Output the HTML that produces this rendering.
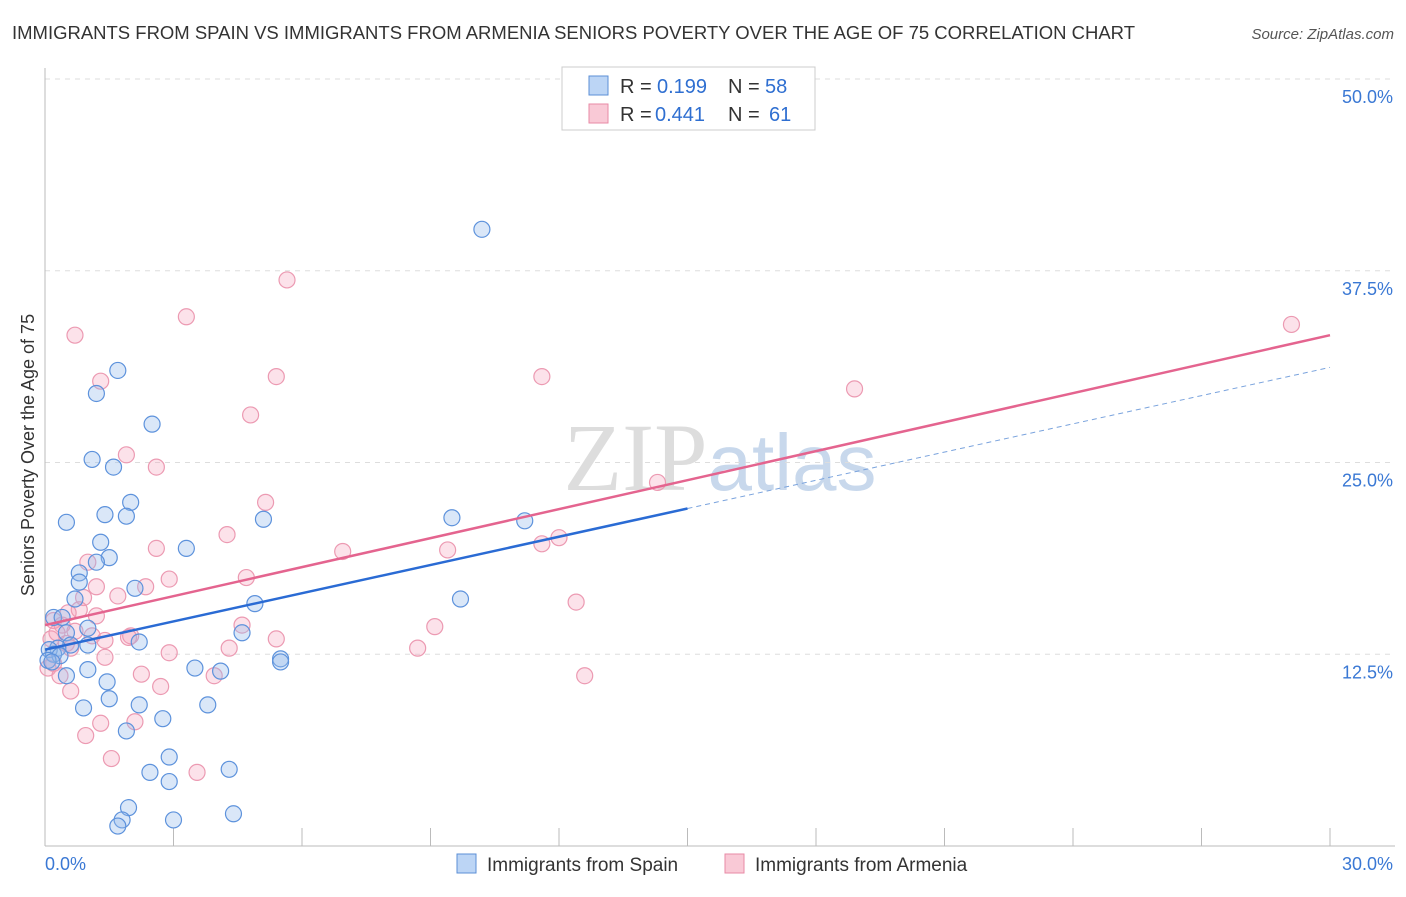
<!DOCTYPE html>
<html><head><meta charset="utf-8"><style>
body{margin:0;background:#fff;font-family:"Liberation Sans",sans-serif;}
</style></head><body>
<svg id="chart" width="1406" height="892" viewBox="0 0 1406 892" xmlns="http://www.w3.org/2000/svg">
<text x="12" y="39" font-size="18" fill="#333" textLength="1123" lengthAdjust="spacingAndGlyphs">IMMIGRANTS FROM SPAIN VS IMMIGRANTS FROM ARMENIA SENIORS POVERTY OVER THE AGE OF 75 CORRELATION CHART</text>
<text x="1394" y="39" font-size="15" fill="#555" font-style="italic" text-anchor="end">Source: ZipAtlas.com</text>
<text x="720" y="490" font-size="96" fill="#ddd" text-anchor="middle" font-family="Liberation Serif,serif">ZIP<tspan fill="#c8d8ec" font-family="Liberation Sans,sans-serif" font-size="80">atlas</tspan></text>
<g id="grid"></g>
<g id="axes"></g>
<g id="pts"></g>
<g id="lines"></g>
<text transform="translate(34,455) rotate(-90)" font-size="18" fill="#333" text-anchor="middle">Seniors Poverty Over the Age of 75</text>
<g>
<rect x="562" y="67" width="253" height="63" fill="#fff" stroke="#ccc"/>
<rect x="589" y="76" width="19" height="19" fill="#bcd5f5" stroke="#5b8fd6"/>
<rect x="589" y="104" width="19" height="19" fill="#f9c9d6" stroke="#e88aa6"/>
<text x="620" y="93" font-size="20" fill="#333">R =</text>
<text x="657" y="93" font-size="20" fill="#2f6fd1">0.199</text>
<text x="728" y="93" font-size="20" fill="#333">N =</text>
<text x="765" y="93" font-size="20" fill="#2f6fd1">58</text>
<text x="620" y="121" font-size="20" fill="#333">R =</text>
<text x="655" y="121" font-size="20" fill="#2f6fd1">0.441</text>
<text x="728" y="121" font-size="20" fill="#333">N =</text>
<text x="769" y="121" font-size="20" fill="#2f6fd1">61</text>
</g>
<g>
<rect x="457" y="854" width="19" height="19" fill="#bcd5f5" stroke="#5b8fd6"/>
<text x="487" y="871" font-size="19" fill="#333">Immigrants from Spain</text>
<rect x="725" y="854" width="19" height="19" fill="#f9c9d6" stroke="#e88aa6"/>
<text x="755" y="871" font-size="19" fill="#333">Immigrants from Armenia</text>
</g>
</svg>
<script>
const xTicks=[0,3,6,9,12,15,18,21,24,27,30];
const yTicks=[12.5,25,37.5,50];
const yTickLabels=["12.5%","25.0%","37.5%","50.0%"];
const spainX=[10.2,1.7,1.2,2.5,1.1,1.6,2.0,1.4,1.9,0.5,5.1,9.5,11.2,1.3,3.3,1.5,1.2,0.8,0.8,2.1,0.7,4.9,9.7,0.2,0.4,1.0,4.6,0.5,2.2,1.0,0.6,0.3,0.1,0.2,0.35,0.07,0.16,5.5,5.5,1.0,3.5,4.1,0.5,1.45,1.5,3.8,2.2,0.9,2.75,1.9,2.9,2.45,2.9,4.3,1.95,1.8,1.7,3.0,4.4];
const spainY=[40.2,31.0,29.5,27.5,25.2,24.7,22.4,21.6,21.5,21.1,21.3,21.4,21.2,19.8,19.4,18.8,18.5,17.8,17.2,16.8,16.1,15.8,16.1,14.9,14.9,14.2,13.9,13.9,13.3,13.1,13.1,12.9,12.8,12.5,12.4,12.1,12.0,12.2,12.0,11.5,11.6,11.4,11.1,10.7,9.6,9.2,9.2,9.0,8.3,7.5,5.8,4.8,4.2,5.0,2.5,1.7,1.3,1.7,2.1];
const armX=[5.65,0.7,3.3,1.3,5.4,11.6,18.9,29.1,4.8,1.9,2.6,5.15,14.3,4.25,2.6,6.95,9.4,11.6,12.0,1.0,2.9,4.7,1.2,1.7,2.35,0.9,12.4,0.8,1.2,0.2,0.4,4.6,0.7,2.0,1.95,1.1,1.4,0.5,0.6,5.4,9.1,8.7,2.9,4.3,1.4,0.2,0.07,0.35,2.25,3.95,12.6,0.6,2.7,1.3,2.1,0.95,1.55,3.55,0.14,0.28,0.54];
const armY=[36.9,33.3,34.5,30.3,30.6,30.6,29.8,34.0,28.1,25.5,24.7,22.4,23.7,20.3,19.4,19.2,19.3,19.7,20.1,18.5,17.4,17.5,16.9,16.3,16.9,16.2,15.9,15.4,15.0,14.7,14.4,14.4,14.0,13.7,13.6,13.7,13.4,13.2,12.9,13.5,14.3,12.9,12.6,12.9,12.3,11.9,11.6,11.1,11.2,11.1,11.1,10.1,10.4,8.0,8.1,7.2,5.7,4.8,13.5,13.9,15.2];
const spainFit=[12.8,22.0,31.2];
const armFit=[14.4,33.3];
const NS="http://www.w3.org/2000/svg";
const X0=45,X1=1330,Y0=846,YT=79;
const xs=v=>X0+(v/30)*(X1-X0);
const ys=v=>Y0-(v/50)*(Y0-YT);
function mk(tag,attrs,parent){const e=document.createElementNS(NS,tag);for(const k in attrs)e.setAttribute(k,attrs[k]);parent.appendChild(e);return e;}
const grid=document.getElementById('grid'),axes=document.getElementById('axes'),pts=document.getElementById('pts'),lines=document.getElementById('lines');
yTicks.forEach((t,i)=>{
 const l=mk('line',{x1:X0,x2:1395,y1:ys(t),y2:ys(t),stroke:'#ddd','stroke-dasharray':'5,5'},grid);
 
 
 const tx=mk('text',{x:1393,y:ys(t)+24,'font-size':18,fill:'#3a78d4','text-anchor':'end'},axes);
 tx.textContent=yTickLabels[i];
 
 
});
const ax=mk('line',{x1:X0,x2:1395,y1:Y0,y2:Y0,stroke:'#bbb'},axes);


const ay=mk('line',{x1:X0,x2:X0,y1:68,y2:Y0,stroke:'#bbb'},axes);


xTicks.forEach(t=>{
 const l=mk('line',{x1:xs(t),x2:xs(t),y1:Y0,y2:Y0-18,stroke:'#bbb'},axes);
 
 
});
[[0,'0.0%','start',45],[30,'30.0%','end',1393]].forEach(a=>{
 const tx=mk('text',{x:a[3],y:870,'font-size':18,fill:'#3a78d4','text-anchor':a[2]},axes);
 tx.textContent=a[1];
 
 
});
armX.forEach((x,i)=>{
 const c=mk('circle',{cx:xs(x),cy:ys(armY[i]),r:8,fill:'rgba(245,160,185,0.3)',stroke:'#ec9ab2','stroke-width':1.2},pts);
 
 
});
spainX.forEach((x,i)=>{
 const c=mk('circle',{cx:xs(x),cy:ys(spainY[i]),r:8,fill:'rgba(150,185,235,0.35)',stroke:'#5d92dc','stroke-width':1.2},pts);
 
 
});
const l1=mk('line',{x1:xs(0),y1:ys(spainFit[0]),x2:xs(15),y2:ys(spainFit[1]),stroke:'#2a6bd4','stroke-width':2.5},lines);


const l2=mk('line',{x1:xs(15),y1:ys(spainFit[1]),x2:xs(30),y2:ys(spainFit[2]),stroke:'#7aa3dd','stroke-width':1,'stroke-dasharray':'5,4'},lines);


const l3=mk('line',{x1:xs(0),y1:ys(armFit[0]),x2:xs(30),y2:ys(armFit[1]),stroke:'#e4648f','stroke-width':2.5},lines);


</script>
</body></html>
